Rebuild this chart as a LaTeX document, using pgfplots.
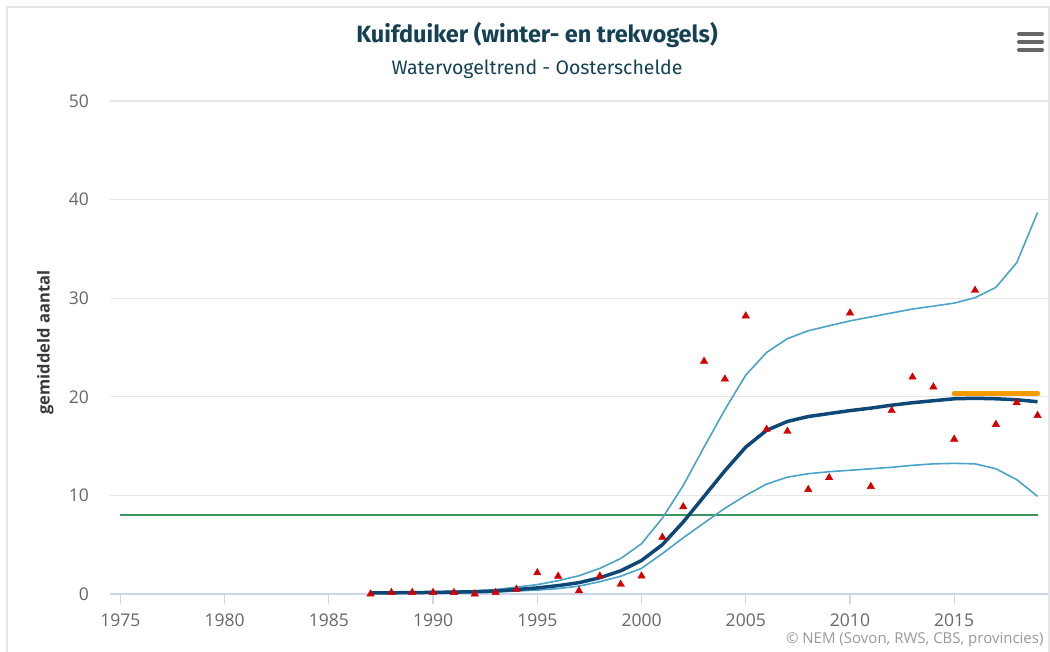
\documentclass[border=0pt]{standalone}
\usepackage{fontspec}
\setmainfont{Open Sans}
\newfontfamily\titlefont{Fira Sans}
\usepackage{pgfplots}
\pgfplotsset{compat=1.18}
\usepackage{pgfplotstable}

\definecolor{trenddark}{RGB}{14,72,118}
\definecolor{cilight}{RGB}{74,163,200}
\definecolor{ptred}{RGB}{212,0,0}
\definecolor{refgreen}{RGB}{60,150,95}
\definecolor{refor}{RGB}{245,155,0}
\definecolor{axblue}{RGB}{204,214,235}
\definecolor{gridgray}{RGB}{230,230,230}
\definecolor{titlecol}{RGB}{20,66,84}
\definecolor{labgray}{RGB}{102,102,102}

% year, trend, upper, lower
\pgfplotstableread{
year trend upper lower
1987 0.10 0.15 0.05
1988 0.12 0.17 0.07
1989 0.14 0.20 0.09
1990 0.16 0.23 0.10
1991 0.19 0.27 0.12
1992 0.23 0.33 0.15
1993 0.30 0.45 0.20
1994 0.45 0.70 0.30
1995 0.62 0.95 0.40
1996 0.85 1.35 0.55
1997 1.15 1.85 0.80
1998 1.65 2.60 1.25
1999 2.35 3.60 1.80
2000 3.40 5.10 2.60
2001 5.00 7.70 4.10
2002 7.30 11.00 5.70
2003 9.90 14.90 7.20
2004 12.50 18.70 8.70
2005 14.90 22.20 10.00
2006 16.60 24.50 11.15
2007 17.50 25.90 11.85
2008 18.00 26.70 12.20
2009 18.30 27.20 12.40
2010 18.60 27.70 12.55
2011 18.85 28.10 12.70
2012 19.15 28.50 12.85
2013 19.40 28.90 13.05
2014 19.60 29.20 13.20
2015 19.80 29.50 13.25
2016 19.85 30.05 13.20
2017 19.80 31.10 12.70
2018 19.70 33.60 11.60
2019 19.50 38.70 9.90
}\trendtab

% yearly counts
\pgfplotstableread{
year count
1987 0.0
1988 0.15
1989 0.15
1990 0.15
1991 0.15
1992 0.0
1993 0.15
1994 0.47
1995 2.15
1996 1.8
1997 0.33
1998 1.82
1999 0.98
2000 1.82
2001 5.75
2002 8.85
2003 23.6
2004 21.8
2005 28.2
2006 16.7
2007 16.5
2008 10.6
2009 11.8
2010 28.5
2011 10.9
2012 18.6
2013 22.0
2014 21.0
2015 15.7
2016 30.8
2017 17.2
2018 19.4
2019 18.1
}\counttab

\begin{document}
\begin{tikzpicture}[x=1pt,y=1pt]
\path[use as bounding box] (0,0) rectangle (1050,652);
% chart border
\draw[gridgray, line width=1.5pt] (7,0) -- (7,645) -- (1049,645) -- (1049,0);

\begin{axis}[
    at={(110pt,58pt)}, anchor=south west,
    scale only axis,
    width=938pt, height=493pt,
    xmin=1974.5, xmax=2019.5,
    ymin=0, ymax=50,
    xtick={1975,1980,...,2015},
    ytick={0,10,...,50},
    /pgf/number format/assume math mode=true,
    /pgf/number format/1000 sep={},
    axis lines*=left,
    x axis line style={axblue, line width=1.5pt},
    y axis line style={draw=none},
    ytick style={draw=none},
    xtick style={axblue, line width=1.2pt},
    tick align=outside,
    major tick length=10pt,
    ymajorgrids,
    major grid style={gridgray, line width=1.3pt},
    tick label style={font=\fontsize{17.5}{20}\selectfont, text=labgray},
    yticklabel style={inner sep=0pt, xshift=-11pt},
    xticklabel style={inner sep=0pt, yshift=-10pt},
    ylabel={gemiddeld aantal},
    ylabel style={font=\fontsize{16.5}{19}\selectfont\bfseries, text=black!78,
        at={(axis description cs:-0.069,0.51)}, anchor=center},
    clip=false,
]
\addplot[refgreen, line width=2pt] coordinates {(1975,8) (2019,8)};
\addplot[cilight, line width=1.6pt] table[x=year, y=upper] {\trendtab};
\addplot[cilight, line width=1.6pt] table[x=year, y=lower] {\trendtab};
\addplot[trenddark, line width=3.5pt, line join=round] table[x=year, y=trend] {\trendtab};
\addplot[refor, line width=5pt, line cap=round] coordinates {(2015,20.3) (2019,20.3)};
\addplot[only marks, mark=triangle*, mark size=4.3pt, mark options={fill=ptred, draw=ptred}] table[x=year, y=count] {\counttab};
\end{axis}

% titles
\node[font=\titlefont\bfseries\fontsize{23.5}{28}\selectfont, text=titlecol] at (537,617) {Kuifduiker (winter- en trekvogels)};
\node[font=\titlefont\fontsize{19.5}{23}\selectfont, text=titlecol] at (537,583) {Watervogeltrend - Oosterschelde};
\node[anchor=base east, font=\fontsize{15}{17}\selectfont, text=black!40] at (1047,8) {© NEM (Sovon, RWS, CBS, provincies)};
% menu icon
\foreach \yy in {618,610,602}
  \draw[labgray, line width=4pt, line cap=round] (1019,\yy) -- (1042,\yy);
\end{tikzpicture}
\end{document}
